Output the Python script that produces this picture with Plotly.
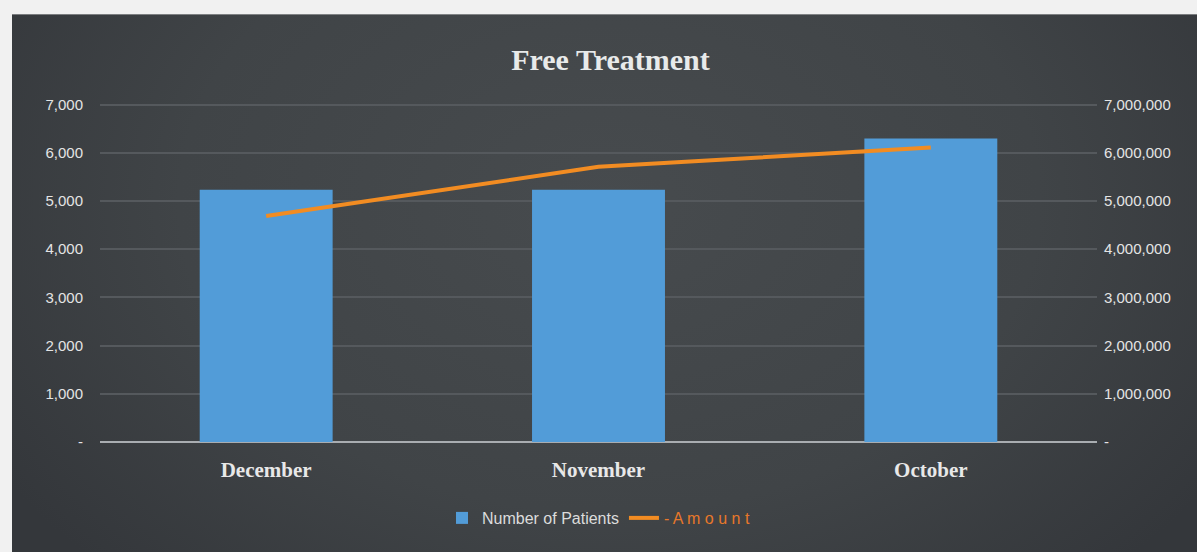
import base64
import plotly.graph_objects as go

months = ["December", "November", "October"]
patients = [5235, 5235, 6295]
amount = [4690000, 5710000, 6110000]
left_ticks = [0, 1000, 2000, 3000, 4000, 5000, 6000, 7000]
left_labels = ["-", "1,000", "2,000", "3,000", "4,000", "5,000", "6,000", "7,000"]
right_ticks = [0, 1000000, 2000000, 3000000, 4000000, 5000000, 6000000, 7000000]
right_labels = ["-", "1,000,000", "2,000,000", "3,000,000", "4,000,000",
                "5,000,000", "6,000,000", "7,000,000"]

svg = (
    "<svg xmlns='http://www.w3.org/2000/svg' width='1185' height='538' "
    "viewBox='0 0 1185 538' preserveAspectRatio='none'>"
    "<defs><radialGradient id='g' cx='0.5' cy='0.35' r='0.6' gradientTransform='translate(0.5 0.35) scale(1 1.6) translate(-0.5 -0.35)'>"
    "<stop offset='0' stop-color='#474b4e'/><stop offset='0.6' stop-color='#404447'/>"
    "<stop offset='1' stop-color='#34373b'/></radialGradient></defs>"
    "<rect width='1185' height='538' fill='url(#g)'/></svg>"
)
bg_uri = "data:image/svg+xml;base64," + base64.b64encode(svg.encode()).decode()

fig = go.Figure()
fig.add_trace(go.Bar(
    x=months, y=patients, name="Number of Patients",
    marker=dict(color="#529cd8", line=dict(width=0)),
    width=0.4, yaxis="y",
))
fig.add_trace(go.Scatter(
    x=months, y=amount, name="<span style='color:#e8782a'>- A m o u n t</span>",
    mode="lines", line=dict(color="#f28c22", width=4), yaxis="y2",
))

fig.update_layout(
    width=1197, height=552,
    margin=dict(l=100, r=100, t=95, b=110),
    paper_bgcolor="#f1f1f1",
    plot_bgcolor="rgba(0,0,0,0)",
    title=dict(text="<b>Free Treatment</b>", x=0.51, xanchor="center", y=0.892, yanchor="middle",
               font=dict(family="Liberation Serif", size=30, color="#e8eaea")),
    font=dict(family="Liberation Sans Narrow, Liberation Sans", color="#e0e0e0", size=15),
    showlegend=True,
    legend=dict(orientation="h", x=0.5, xanchor="center", y=-0.219, yanchor="middle",
                font=dict(family="Liberation Sans Narrow, Liberation Sans", size=16, color="#dcdcdc"),
                bgcolor="rgba(0,0,0,0)", traceorder="normal", itemwidth=30),
    xaxis=dict(showgrid=False, tickvals=months,
               ticktext=["<b>" + m + "</b>" for m in months],
               tickfont=dict(family="Liberation Serif", size=21, color="#e8e8e8"),
               ticks="", showline=False, ticklabelstandoff=13),
    yaxis=dict(range=[0, 7200], tickvals=left_ticks, ticktext=left_labels,
               showgrid=True, gridcolor="#55595d", gridwidth=2,
               zeroline=True, zerolinecolor="#a9adb1", zerolinewidth=2,
               tickfont=dict(color="#e4e4e4", size=15), ticklabelstandoff=16),
    yaxis2=dict(range=[0, 7200000], tickvals=right_ticks, ticktext=right_labels,
                overlaying="y", side="right", showgrid=False, zeroline=False,
                tickfont=dict(color="#e4e4e4", size=15), ticklabelstandoff=6),
    bargap=0.6,
    images=[dict(source=bg_uri, xref="paper", yref="paper",
                 x=-0.0883, y=1.233, sizex=1.1987, sizey=1.55,
                 xanchor="left", yanchor="top", sizing="stretch", layer="below")],
)

fig.write_html("out.html", post_script="document.body.style.margin='0px';",
               config={"displayModeBar": False})
